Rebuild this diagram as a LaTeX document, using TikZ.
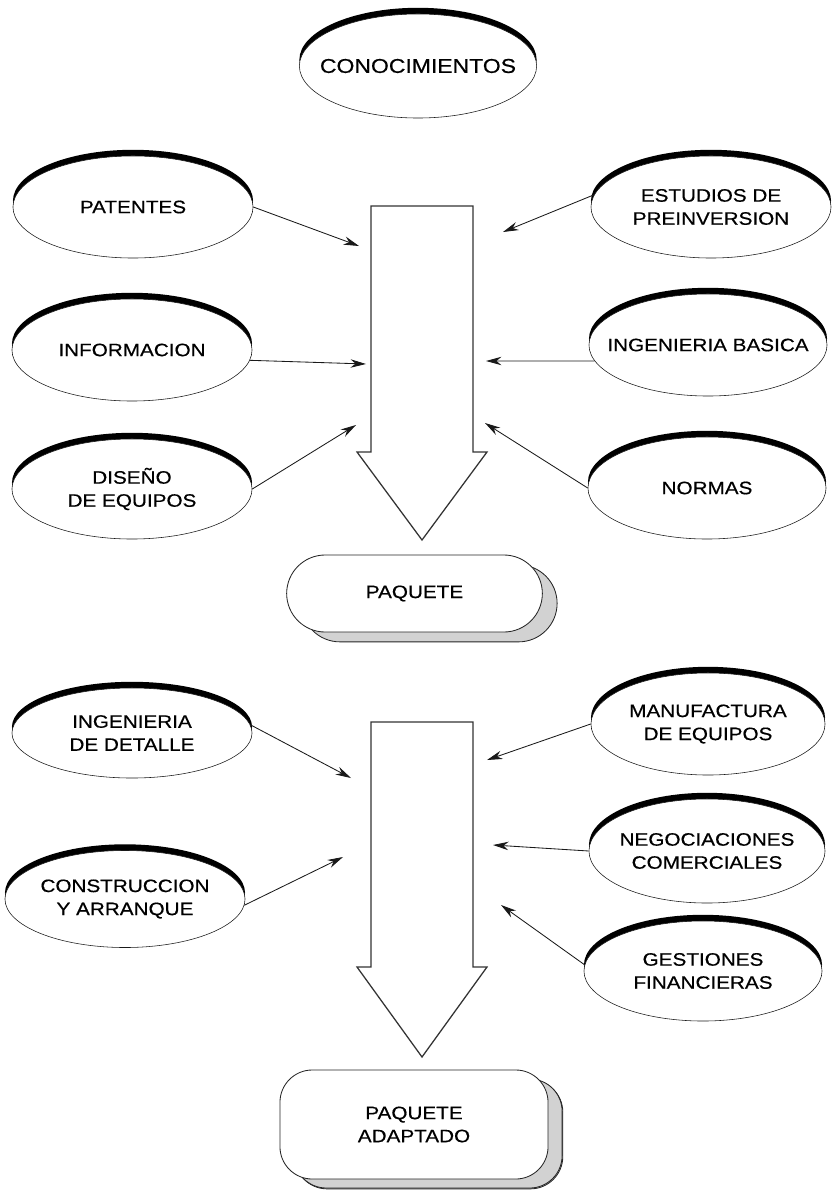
\documentclass[tikz,border=0pt]{standalone}
\usepackage{fontspec}
\setmainfont{Liberation Sans}[FakeStretch=1.15, FakeBold=0.5]
\usepackage{tikz}
\usetikzlibrary{shapes.geometric}
\usetikzlibrary{shapes.misc}
\usetikzlibrary{shadows}
\usetikzlibrary{arrows.meta}
\tikzset{blob/.style={ellipse, draw=black!90, thin, fill=white, minimum width=6cm, minimum height=2.55cm, inner sep=0pt, general shadow={fill=black, shadow yshift=4.4pt}}}
\tikzset{lbl/.style={align=center, font=\fontsize{12.8}{16.4}\selectfont, text=black}}
\tikzset{feed/.style={-{Stealth[length=11pt,width=6pt]}, line width=0.6pt, black!90}}
\tikzset{bigarrow/.style={draw=black!80, line width=0.9pt, fill=white, line join=miter}}
\tikzset{pack/.style={draw=black!85, line width=0.6pt, fill=white, align=center, font=\fontsize{12.8}{16.4}\selectfont, text=black, general shadow={fill=gray!35, draw=black!85, line width=0.6pt, shadow xshift=10.5pt, shadow yshift=-7pt}}}

\begin{document}
\begin{tikzpicture}[x=0.025cm, y=-0.025cm]
    \useasboundingbox (0,0) rectangle (840,1190);

    \node [blob, minimum width=5.93cm, minimum height=2.6cm, label={[lbl, font=\fontsize{14.2}{17}\selectfont]center:CONOCIMIENTOS}](cono) at (418,66) {};

    % first block
    \draw[bigarrow] (371,206) -- (473,206) -- (473,452) -- (487,452) -- (422,540) -- (357,452) -- (371,452) -- cycle;
    \node [blob, label={[lbl]center:PATENTES}](pat) at (133,207) {};
    \node [blob, label={[lbl]center:ESTUDIOS DE\\PREINVERSION}](est) at (711,207) {};
    \node [blob, label={[lbl]center:INFORMACION}](inf) at (132,350) {};
    \node [blob, minimum width=5.95cm, label={[lbl]center:INGENIERIA BASICA}](ingb) at (708,345) {};
    \node [blob, minimum height=2.5cm, label={[lbl]center:DISE\~NO\\DE EQUIPOS}](dis) at (132,489) {};
    \node [blob, minimum width=5.95cm, label={[lbl]center:NORMAS}](nor) at (707,488) {};

    \coordinate (t1) at (359,246);
    \coordinate (t2) at (503,232);
    \coordinate (t3) at (366,364);
    \coordinate (t4) at (486,361);
    \coordinate (t5) at (356,425);
    \coordinate (t6) at (485,423);

    \draw[feed] (pat.east) -- (t1);
    \draw[feed] (est.174) -- (t2);
    \draw[feed] (inf.-5) -- (t3);
    \draw[feed] (ingb.188) -- (t4);
    \draw[feed] (dis.east) -- (t5);
    \draw[feed] (nor.west) -- (t6);

    \node [pack, rounded rectangle, minimum width=6.625cm, minimum height=1.925cm](paq) at (414.5,593.5) {PAQUETE};

    % second block
    \draw[bigarrow] (371,722) -- (473,722) -- (473,967) -- (487,967) -- (422,1057) -- (357,967) -- (371,967) -- cycle;
    \node [blob, minimum height=2.25cm, label={[lbl]center:INGENIERIA\\DE DETALLE}](ingd) at (132,733) {};
    \node [blob, minimum width=5.85cm, label={[lbl]center:MANUFACTURA\\DE EQUIPOS}](man) at (708,724) {};
    \node [blob, minimum height=2.425cm, label={[lbl]center:CONSTRUCCION\\Y ARRANQUE}](con) at (125,899) {};
    \node [blob, minimum width=5.9cm, minimum height=2.6cm, label={[lbl]center:NEGOCIACIONES\\COMERCIALES}](neg) at (707,851) {};
    \node [blob, minimum width=5.95cm, minimum height=2.5cm, label={[lbl]center:GESTIONES\\FINANCIERAS}](ges) at (703,971) {};

    \coordinate (t7) at (351,778);
    \coordinate (t8) at (487,760);
    \coordinate (t9) at (343,857);
    \coordinate (t10) at (493,845);
    \coordinate (t11) at (501,905);

    \draw[feed] (ingd.4) -- (t7);
    \draw[feed] (man.west) -- (t8);
    \draw[feed] (con.-3) -- (t9);
    \draw[feed] (neg.west) -- (t10);
    \draw[feed] (ges.177) -- (t11);

    \node [pack, rectangle, rounded corners=23pt, minimum width=6.7cm, minimum height=2.725cm, general shadow={fill=gray!35, draw=black!85, line width=0.6pt, shadow xshift=10pt, shadow yshift=-6.4pt}](adap) at (414,1124.5) {PAQUETE\\ADAPTADO};
\end{tikzpicture}
\end{document}
